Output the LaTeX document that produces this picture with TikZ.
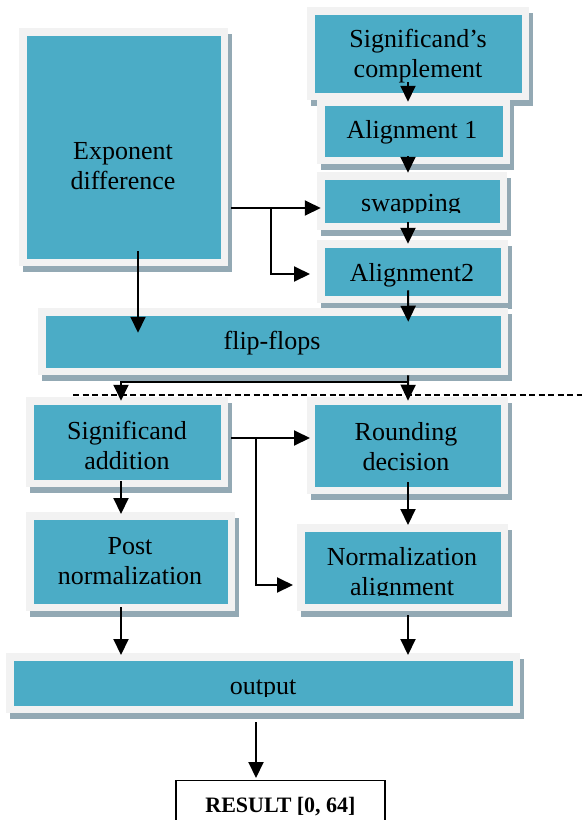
\documentclass[tikz,border=0pt]{standalone}
\usepackage{fontspec}
\setmainfont{Liberation Serif}
\usetikzlibrary{arrows.meta}
\definecolor{boxteal}{RGB}{75,172,198}
\definecolor{boxframe}{RGB}{242,242,242}
\definecolor{boxshade}{RGB}{147,169,180}
\tikzset{
    blk/.style={draw=boxframe, fill=boxteal, line width=7.5pt, inner sep=0pt, outer sep=0pt,
        preaction={draw=boxshade, fill=boxshade, line width=7.5pt,
            transform canvas={shift={(3.5pt,-5.5pt)}}}},
    lbl/.style={align=center, inner sep=0pt, font=\fontsize{26}{30}\selectfont},
    arr/.style={-{Triangle[length=16pt,width=15pt]}, line width=2pt},
}
\begin{document}
\begin{tikzpicture}[x=1pt,y=-1pt]
            \useasboundingbox (0,0) rectangle (582,820);

            % boxes
            \node[blk, minimum width=201.5pt, minimum height=230.5pt] (expo) at (123.5,147) {};
            \node[blk, minimum width=214.5pt, minimum height=85.5pt] (comp) at (418,53.5) {};
            \node[blk, minimum width=185.5pt, minimum height=58.5pt] (alg1) at (413.5,131) {};
            \node[blk, minimum width=182.5pt, minimum height=50.5pt] (swap) at (412,201) {};
            \node[blk, minimum width=183.5pt, minimum height=55.5pt] (alg2) at (412.5,271.5) {};
            \node[blk, minimum width=462.5pt, minimum height=59.5pt] (flip) at (273,341.5) {};
            \node[blk, minimum width=194.5pt, minimum height=82.5pt] (sadd) at (127,442) {};
            \node[blk, minimum width=193.5pt, minimum height=89.5pt] (round) at (407.5,445.5) {};
            \node[blk, minimum width=201.5pt, minimum height=91.5pt] (post) at (130.5,561.5) {};
            \node[blk, minimum width=203.5pt, minimum height=79.5pt] (nalign) at (402.5,567.5) {};
            \node[blk, minimum width=506.5pt, minimum height=52.5pt] (output) at (263,683) {};

            % texts
            \node[lbl] (expot) at (123,168.5) {\strut Exponent\\\strut difference};
            \node[lbl] (compt) at (418,56) {\strut Significand’s\\\strut complement};
            \node[lbl] (alg1t) at (412,132) {\strut Alignment 1};
            \begin{scope}
                \clip (swap.north west) rectangle ([yshift=14pt]swap.south east);
                \node[lbl] (swapt) at (411,205) {\strut swapping};
            \end{scope}
            \node[lbl] (alg2t) at (412,275) {\strut Alignment2};
            \node[lbl] (flipt) at (272,343) {\strut flip-flops};
            \node[lbl] (saddt) at (127,448) {\strut Significand\\\strut addition};
            \node[lbl] (roundt) at (406,449) {\strut Rounding\\\strut decision};
            \node[lbl] (postt) at (130,563) {\strut Post\\\strut normalization};
            \begin{scope}
                \clip (nalign.north west) rectangle ([yshift=12.25pt]nalign.south east);
                \node[lbl] (nalignt) at (402,574) {\strut Normalization\\\strut alignment};
            \end{scope}
            \begin{scope}
                \clip (output.north west) rectangle ([yshift=13pt]output.south east);
                \node[lbl] (outputt) at (263,688) {\strut output};
            \end{scope}

            \node[draw, line width=1.2pt, fill=white, anchor=north, inner xsep=0pt, inner ysep=0pt,
                minimum width=209pt, text height=32pt, text depth=9.5pt,
                font=\bfseries\fontsize{22}{26}\selectfont] (res) at (280.5,780) {RESULT [0, 64]};

            \draw [dash pattern=on 6pt off 3.5pt, line width=1.1pt]
                (73,395) -- (582,395);

            % connectors
            \draw[arr] ([xshift=-10pt,yshift=14pt]comp.south) -- ([xshift=-5.5pt]alg1.north);
            \draw[arr] ([xshift=-5.5pt,yshift=4pt]alg1.south) -- ([xshift=-4pt,yshift=3pt]swap.north);
            \draw[arr] ([xshift=-4pt,yshift=4pt]swap.south) -- ([xshift=-4.5pt]alg2.north);
            \draw[arr] ([xshift=-4.5pt,yshift=9pt]alg2.south) -- ([xshift=-96pt,yshift=-10pt]flip.north east);

            \draw[arr] ([xshift=14.5pt,yshift=11pt]expo.south) -- ([xshift=96.25pt,yshift=-21pt]flip.north west);
            \draw[arr] ([xshift=6.75pt,yshift=-61pt]expo.east) -- ([yshift=-7pt]swap.west);
            \draw[arr] ([xshift=47pt,yshift=-61pt]expo.east) |- ([xshift=-10.75pt,yshift=-2.5pt]alg2.west);

            \draw[arr] ([xshift=-96pt,yshift=-4pt]flip.south east) -- ([xshift=0.5pt]round.north);
            \draw[arr] ([xshift=-96pt,yshift=-10.5pt]flip.south east) -| ([xshift=-6pt]sadd.north);

            \draw[arr] ([xshift=6.75pt,yshift=4pt]sadd.east) -- ([xshift=-0.75pt,yshift=7.5pt]round.west);
            \draw[arr] ([xshift=31.75pt,yshift=4pt]sadd.east) |- ([xshift=-7.75pt,yshift=-17.5pt]nalign.west);
            \draw[arr] ([xshift=-6pt,yshift=2.25pt]sadd.south) -- ([xshift=-9.5pt,yshift=1.75pt]post.north);
            \draw[arr] ([xshift=0.5pt,yshift=8pt]round.south) -- ([xshift=5.5pt,yshift=2.75pt]nalign.north);

            \draw[arr] ([xshift=-9.5pt]post.south) -- ([xshift=111.25pt,yshift=1.75pt]output.north west);
            \draw[arr] ([xshift=5.5pt,yshift=-7.75pt]nalign.south) -- ([xshift=-108.25pt,yshift=1.75pt]output.north east);
            \draw[arr] ([xshift=-7pt,yshift=-12.75pt]output.south) -- ([xshift=-24.5pt,yshift=2pt]res.north);
\end{tikzpicture}
\end{document}
